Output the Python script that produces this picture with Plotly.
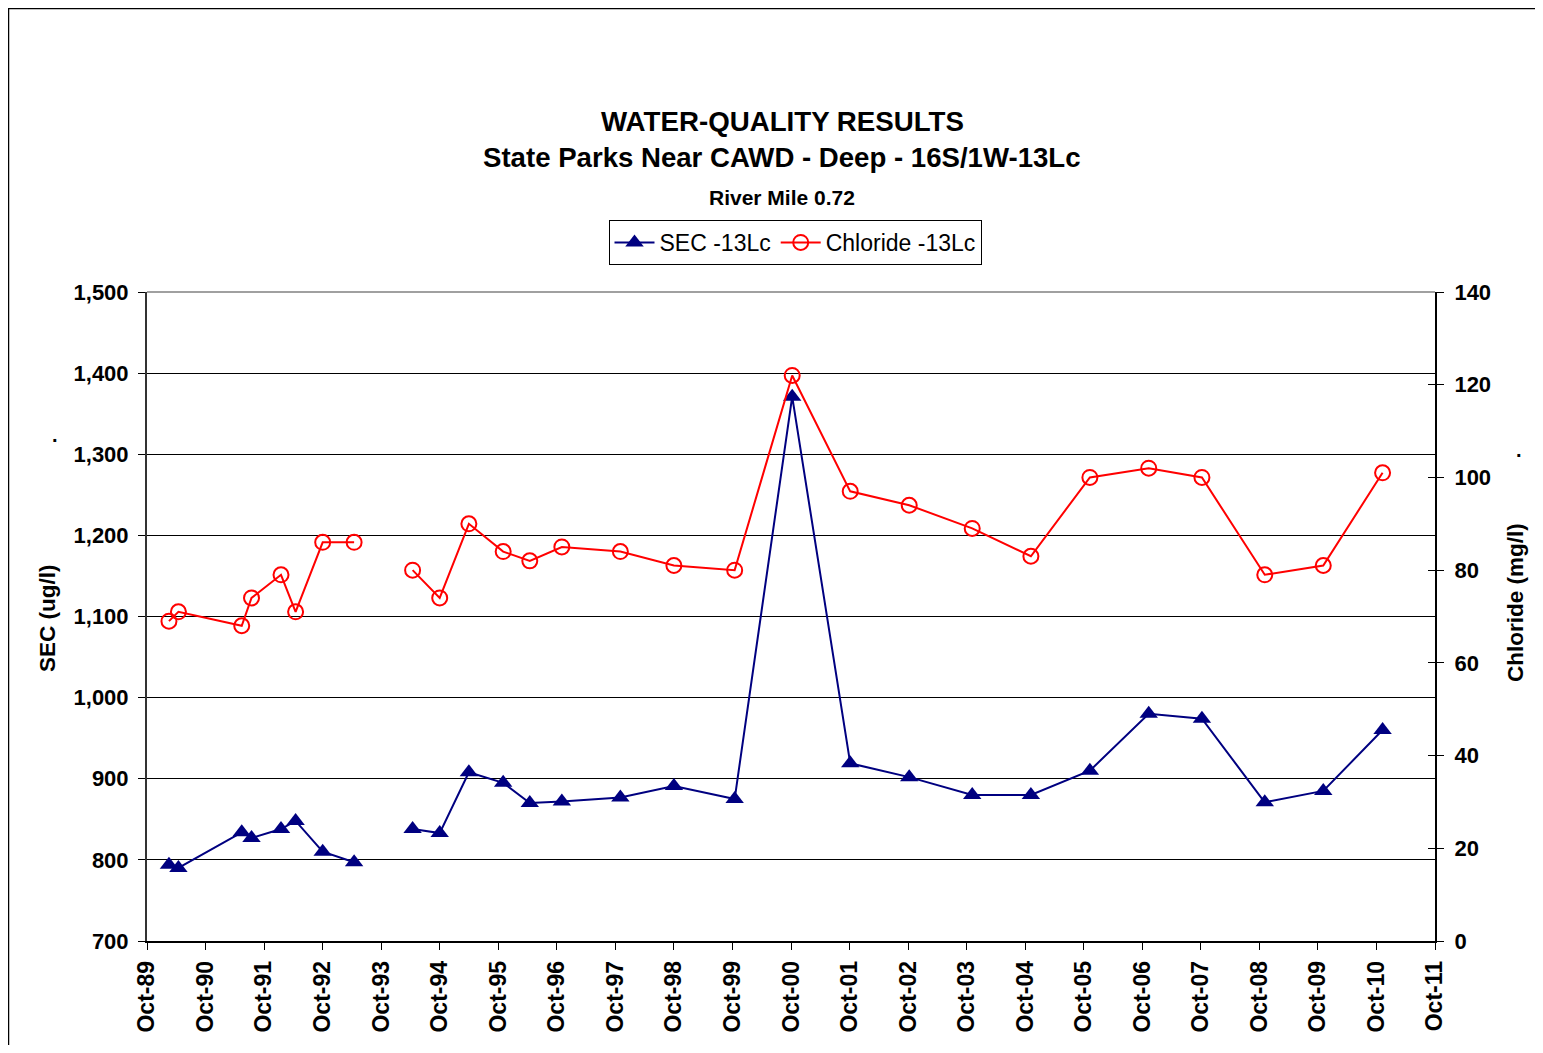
import plotly.graph_objects as go

dates = ["1990-02-15", "1990-04-15", "1991-05-15", "1991-07-15", "1992-01-15", "1992-04-15",
         "1992-10-01", "1993-04-15", "1993-10-15", "1994-04-15", "1994-10-01", "1995-04-01",
         "1995-11-01", "1996-04-15", "1996-11-01", "1997-11-01", "1998-10-01", "1999-10-15",
         "2000-10-08", "2001-10-05", "2002-10-08", "2003-11-05", "2004-11-05", "2005-11-08",
         "2006-11-10", "2007-10-08", "2008-11-03", "2009-11-03", "2010-11-08"]
sec = [794, 790, 834, 827, 838, 848, 810, 797, None, 838, 833, 908, 895, 870, 872, 877,
       891, 875, 1371, 919, 902, 880, 880, 910, 980, 974, 871, 885, 960]
chloride = [69, 71, 68, 74, 79, 71, 86, 86, None, 80, 74, 90, 84, 82, 85, 84, 81, 80, 122,
            97, 94, 89, 83, 100, 102, 100, 79, 81, 101]

OFF = 8  # page body margin
W, H = 1543 - 2 * OFF, 1053 - 2 * OFF
L, R, T, B = 147, 1435, 292, 941  # plot area in reference pixel coords
FONT = "Liberation Sans, Arial, sans-serif"

fig = go.Figure()
fig.add_trace(go.Scatter(
    x=dates, y=sec, name="SEC -13Lc", mode="lines+markers",
    line=dict(color="#000080", width=2),
    marker=dict(symbol="triangle-up", size=16, color="#000080"),
    connectgaps=False, yaxis="y"))
fig.add_trace(go.Scatter(
    x=dates, y=chloride, name="Chloride -13Lc", mode="lines+markers",
    line=dict(color="#FF0000", width=2),
    marker=dict(symbol="circle-open", size=15, color="#FF0000", line=dict(width=2)),
    connectgaps=False, yaxis="y2"))
# invisible helper trace so the inner-tick right axis is drawn
fig.add_trace(go.Scatter(x=[dates[0]], y=[None], yaxis="y3", showlegend=False, hoverinfo="skip"))

def px_x(px):
    return (px - L) / (R - L)

def px_y(py):
    return (B - py) / (B - T)

tickfont = dict(size=22, family=FONT, weight="bold", color="black")

fig.update_layout(
    width=W, height=H,
    margin=dict(l=L - OFF, r=W - (R - OFF), t=T - OFF, b=H - (B - OFF), pad=0),
    paper_bgcolor="white", plot_bgcolor="white",
    font=dict(family=FONT, color="black"),
    showlegend=True,
    legend=dict(orientation="h", x=px_x(795), xanchor="center", y=px_y(220), yanchor="top",
                bgcolor="white", bordercolor="black", borderwidth=1,
                font=dict(size=23, family=FONT), itemwidth=40, tracegroupgap=0),
    xaxis=dict(type="date", range=["1989-10-01", "2011-10-01"],
               tick0="1989-10-01", dtick="M12", tickformat="%b-%y",
               tickangle=-90, ticks="outside", ticklen=7, tickcolor="black",
               showline=True, linecolor="black", linewidth=1.5,
               showgrid=False, zeroline=False, ticklabelstandoff=2,
               tickfont=dict(size=23, family=FONT, weight="bold", color="black")),
    yaxis=dict(range=[700, 1500], dtick=100, tickformat=",",
               ticks="outside", ticklen=7, tickcolor="black",
               showline=True, linecolor="#333333", linewidth=2,
               showgrid=True, gridcolor="black", gridwidth=1, zeroline=False,
               ticklabelstandoff=5, tickfont=tickfont),
    yaxis2=dict(range=[0, 140], dtick=20, overlaying="y", side="right",
                ticks="outside", ticklen=7, tickcolor="black",
                showline=True, linecolor="black", linewidth=2,
                showgrid=False, zeroline=False,
                ticklabelstandoff=6, tickfont=tickfont),
    yaxis3=dict(range=[0, 140], dtick=20, overlaying="y", side="right",
                ticks="inside", ticklen=7, tickcolor="black",
                showline=False, showticklabels=False,
                showgrid=False, zeroline=False),
)

annotations = [
    dict(text="<b>WATER-QUALITY RESULTS</b>", x=px_x(782), y=px_y(121), font=dict(size=27.7)),
    dict(text="<b>State Parks Near CAWD - Deep - 16S/1W-13Lc</b>", x=px_x(782), y=px_y(157), font=dict(size=27.6)),
    dict(text="<b>River Mile 0.72</b>", x=px_x(782), y=px_y(197), font=dict(size=21)),
    dict(text="<b>SEC (ug/l)</b>", x=px_x(47), y=px_y(618), textangle=-90, font=dict(size=22.5)),
    dict(text="<b>.</b>", x=px_x(55), y=px_y(435), font=dict(size=20)),
    dict(text="<b>Chloride (mg/l)</b>", x=px_x(1515), y=px_y(602), textangle=-90, font=dict(size=22.5)),
    dict(text="<b>.</b>", x=px_x(1519), y=px_y(450), font=dict(size=20)),
]
for a in annotations:
    a.update(xref="paper", yref="paper", showarrow=False, xanchor="center", yanchor="middle")
    a["font"]["family"] = FONT
    a["font"]["color"] = "black"
fig.update_layout(annotations=annotations)

# outer chart border (top and left edges visible in the frame)
fig.add_shape(type="line", xref="paper", yref="paper", x0=px_x(8), x1=px_x(1560),
              y0=px_y(8.5), y1=px_y(8.5), line=dict(color="black", width=1.5))
fig.add_shape(type="line", xref="paper", yref="paper", x0=px_x(8.5), x1=px_x(8.5),
              y0=px_y(8), y1=px_y(1070), line=dict(color="black", width=1.5))
# top border of plot area
fig.add_shape(type="line", xref="paper", yref="paper", x0=0, x1=1, y0=1, y1=1,
              line=dict(color="#808080", width=1.5))

fig.write_html("out.html")
